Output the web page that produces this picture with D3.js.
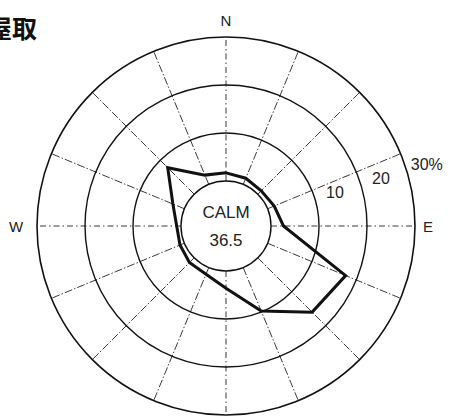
<!DOCTYPE html>
<html>
<head>
<meta charset="utf-8">
<title>屋取 wind rose</title>
<style>
  body { margin: 0; background: #fff; }
  svg { display: block; }
</style>
</head>
<body>
<div id="container"></div>
<script src="https://d3js.org/d3.v7.min.js"></script>
<script>
// Wind directions, clockwise from north.
const directions = ["N", "NNE", "NE", "ENE", "E", "ESE", "SE", "SSE",
                    "S", "SSW", "SW", "WSW", "W", "WNW", "NW", "NNW"];
// Frequency (%) for each direction.
const frequencies = [1.7, 1.4, 1.0, 1.5, 2.6, 17.6, 16.0, 9.8,
                     3.6, 1.5, 1.4, 1.0, 0.9, 2.6, 7.8, 2.1];
const ringValues = [10, 20, 30];
const ringLabels = ["10", "20", "30%"];
const compassLabels = ["N", "E", "W"];
const calmLabel = "CALM";
const calmValue = "36.5";
const stationName = "屋取";

const width = 451;
const height = 417;
const cx = 226;
const cy = 226;

// Radius: the calm circle is the 0% ring.
const r = d3.scaleLinear()
    .domain([0, 30])
    .range([45, 189]);

// Angle for each direction (radians, clockwise from north).
const angle = d3.scaleLinear()
    .domain([0, directions.length])
    .range([0, 2 * Math.PI]);

const font = "Liberation Sans, Arial, sans-serif";

const svg = d3.create("svg")
    .attr("width", width)
    .attr("height", height);

// Station name, partly cut off at the left edge like the original.
svg.append("text")
    .attr("x", -13)
    .attr("y", 38)
    .attr("font-family", "Noto Sans CJK JP")
    .attr("font-weight", "bold")
    .attr("font-size", 25)
    .attr("fill", "#111")
    .text(stationName);

const g = svg.append("g")
    .attr("transform", `translate(${cx},${cy})`);

// Spokes, from the calm circle to the outer ring.
g.append("g")
  .selectAll("line")
  .data(directions)
  .join("line")
    .attr("x1", (d, i) => r(0) * Math.sin(angle(i)))
    .attr("y1", (d, i) => -r(0) * Math.cos(angle(i)))
    .attr("x2", (d, i) => r(30) * Math.sin(angle(i)))
    .attr("y2", (d, i) => -r(30) * Math.cos(angle(i)))
    .attr("stroke", "#222")
    .attr("stroke-width", 0.9)
    .attr("stroke-dasharray", (d, i) => i % 4 === 0 ? "6,3,1.5,3" : "8,2,1.5,2");

// Rings (calm circle + 10/20/30%).
g.append("g")
  .selectAll("circle")
  .data([0, ...ringValues])
  .join("circle")
    .attr("r", d => r(d))
    .attr("fill", "none")
    .attr("stroke", "#111")
    .attr("stroke-width", d => d === 30 ? 1.6 : 1.4);

// Ring labels, placed just outside each ring along ~73 deg.
const labelAngle = 73 * Math.PI / 180;
g.append("g")
  .selectAll("text")
  .data(ringValues)
  .join("text")
    .attr("x", d => (r(d) + 21) * Math.sin(labelAngle))
    .attr("y", d => -(r(d) + 21) * Math.cos(labelAngle))
    .attr("dy", "0.35em")
    .attr("text-anchor", "middle")
    .attr("font-family", font)
    .attr("font-size", 16)
    .attr("fill", "#222")
    .text((d, i) => ringLabels[i]);

// Frequency polygon.
const line = d3.lineRadial()
    .angle((d, i) => angle(i))
    .radius(d => r(d))
    .curve(d3.curveLinearClosed);

g.append("path")
    .attr("d", line(frequencies))
    .attr("fill", "none")
    .attr("stroke", "#111")
    .attr("stroke-width", 3)
    .attr("stroke-linejoin", "miter");

// Compass labels.
const compassPos = {N: [0, -205], E: [202, 1], W: [-210, 1]};
g.append("g")
  .selectAll("text")
  .data(compassLabels)
  .join("text")
    .attr("x", d => compassPos[d][0])
    .attr("y", d => compassPos[d][1])
    .attr("dy", "0.35em")
    .attr("text-anchor", "middle")
    .attr("font-family", font)
    .attr("font-size", 15)
    .attr("fill", "#222")
    .text(d => d);

// Calm text.
g.append("text")
    .attr("y", -14)
    .attr("dy", "0.35em")
    .attr("text-anchor", "middle")
    .attr("font-family", font)
    .attr("font-size", 17)
    .attr("fill", "#222")
    .text(calmLabel);

g.append("text")
    .attr("y", 14)
    .attr("dy", "0.35em")
    .attr("text-anchor", "middle")
    .attr("font-family", font)
    .attr("font-size", 17)
    .attr("fill", "#222")
    .text(calmValue);

container.append(svg.node());
</script>
</body>
</html>
